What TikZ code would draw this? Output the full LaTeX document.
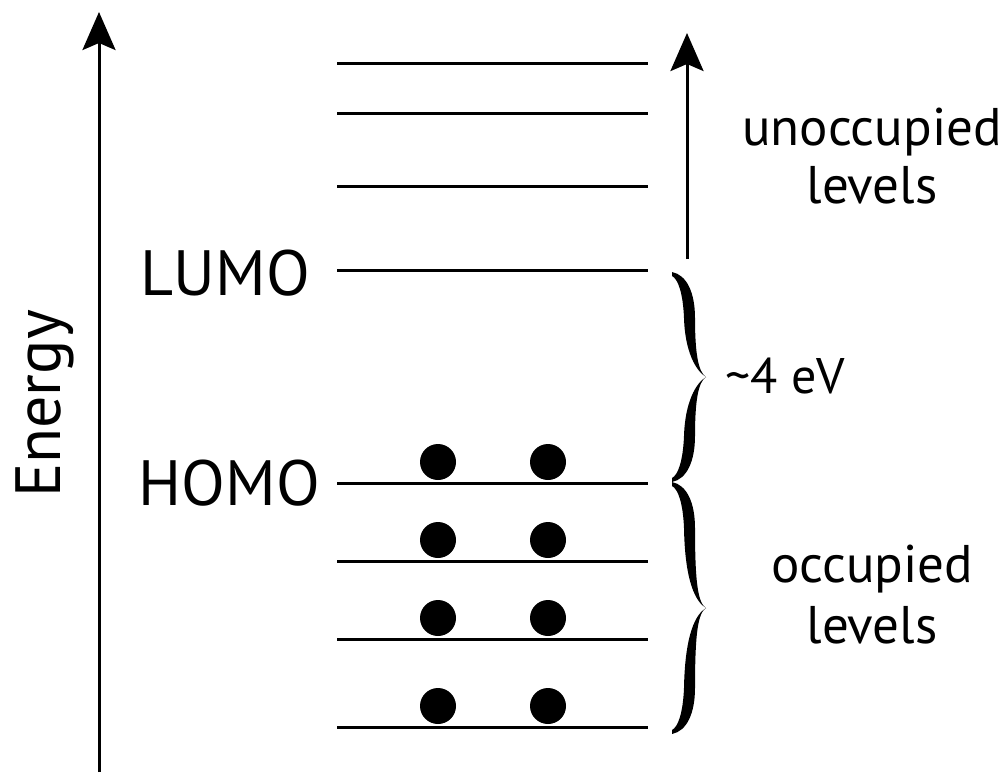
\documentclass[tikz,border=0pt]{standalone}
\usepackage{fontspec}
\setmainfont{PT Sans}
\usetikzlibrary{arrows.meta}
\newcommand\BraceArm[1]{%
  \fill (0,-1) .. controls (15,2) and (23,20) .. (23,45)
        .. controls (23,#1-25) and (26,#1-5) .. (34,#1)
        .. controls (24,#1-6) and (13,#1-25) .. (12,45)
        .. controls (11,20) and (6,6) .. (0,3) -- cycle;}
\begin{document}
\begin{tikzpicture}[x=1pt,y=-1pt,
  level/.style={line width=3pt},
  axisarrow/.style={line width=3pt,-{Stealth[length=38pt,width=33pt,inset=7pt]}},
  electron/.style={circle,fill=black,inner sep=0pt,minimum size=36pt},
  bigtext/.style={font=\fontsize{64}{70}\selectfont,inner sep=0pt},
  smalltext/.style={font=\fontsize{50}{58}\selectfont,inner sep=0pt},
  wordtext/.style={font=\fontsize{53}{60}\selectfont,inner sep=0pt}]
\useasboundingbox (0,0) rectangle (1007,772);
% energy axis
\coordinate (axbot) at (99,772);
\coordinate (axtop) at (99,12);
\draw[axisarrow] (axbot) -- (axtop);
\node[bigtext,rotate=90,anchor=base] (energy) at (60,404) {Energy};
% levels
\foreach \n/\y in {u3/63,u2/113,u1/186,lumo/270,homo/483,o1/561,o2/639,o3/727}{
  \coordinate (\n L) at (337,\y);
  \coordinate (\n R) at (648,\y);
  \draw[level] (\n L) -- (\n R);
}
\node[bigtext,anchor=base east] (lumolab) at (310,295) {LUMO};
\node[bigtext,anchor=base east] (homolab) at (320,505) {HOMO};
% electrons
\foreach \y [count=\i] in {462,540,618,706}{
  \node[electron] (ea\i) at (438,\y) {};
  \node[electron] (eb\i) at (548,\y) {};
}
% unoccupied arrow
\coordinate (upbot) at (687,259);
\coordinate (uptop) at (687,33);
\draw[axisarrow] (upbot) -- (uptop);
\node[wordtext,anchor=base] (unocc1) at (872,145) {unoccupied};
\node[wordtext,anchor=base] (unocc2) at (872,203) {levels};
% braces (gap: 273..481, occupied: 482..732)
\begin{scope}[shift={(672,273)}]\BraceArm{104}\end{scope}
\begin{scope}[shift={(672,481)},yscale=-1]\BraceArm{104}\end{scope}
\begin{scope}[shift={(672,483)}]\BraceArm{125}\end{scope}
\begin{scope}[shift={(672,733)},yscale=-1]\BraceArm{125}\end{scope}
\node[smalltext,anchor=base west] (gap) at (725,393) {\textasciitilde 4 eV};
\node[wordtext,anchor=base] (occ1) at (872,582) {occupied};
\node[wordtext,anchor=base] (occ2) at (872,643) {levels};
\end{tikzpicture}
\end{document}
